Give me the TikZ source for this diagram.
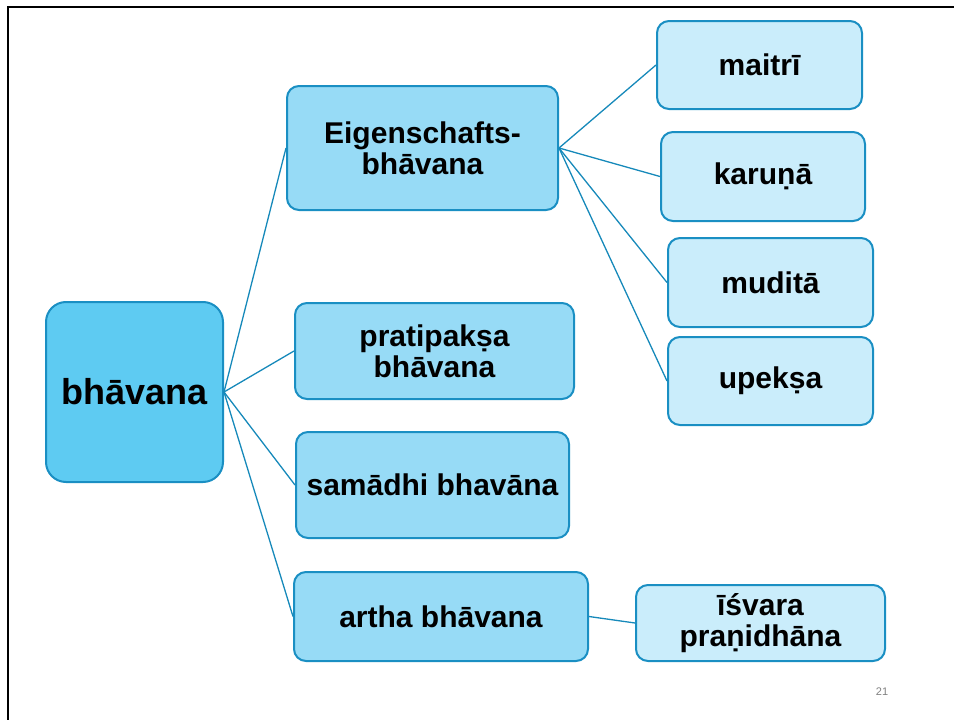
\documentclass[tikz,border=0pt]{standalone}
\usepackage{fontspec}
\setmainfont{Liberation Sans}
\definecolor{mainfill}{RGB}{94,203,242}
\definecolor{lvlonefill}{RGB}{151,219,246}
\definecolor{lvltwofill}{RGB}{202,237,251}
\definecolor{boxborder}{RGB}{26,143,195}
\definecolor{linkcol}{RGB}{22,137,186}
\begin{document}
\begin{tikzpicture}[x=1pt,y=-1pt,
  basebox/.style={draw=boxborder, line width=2pt, inner sep=0pt, align=center,
    font=\fontsize{30}{31}\selectfont\bfseries},
  rootbox/.style={basebox, fill=mainfill, rounded corners=20pt,
    font=\fontsize{36}{38}\selectfont\bfseries},
  lvlone/.style={basebox, fill=lvlonefill, rounded corners=12pt},
  lvltwo/.style={basebox, fill=lvltwofill, rounded corners=12pt},
  link/.style={draw=linkcol, line width=1.3pt}]
\useasboundingbox (0,0) rectangle (954,720);
\draw[line width=2pt, black] (8,720) -- (8,7) -- (954,7);

\node[rootbox, minimum width=177pt, minimum height=180pt] (root) at (134.5,392) {bhāvana};

\node[lvlone, minimum width=271pt, minimum height=124pt] (eig) at (422.5,148) {Eigenschafts-\\bhāvana};
\node[lvlone, minimum width=279pt, minimum height=96pt] (prat) at (434.5,351) {pratipakṣa\\bhāvana};
\node[lvlone, minimum width=273pt, minimum height=106pt] (sam) at (432.5,485) {samādhi bhavāna};
\node[lvlone, minimum width=294pt, minimum height=89pt] (artha) at (441,616.5) {artha bhāvana};

\node[lvltwo, minimum width=205pt, minimum height=88pt] (maitri) at (759.5,65) {maitrī};
\node[lvltwo, minimum width=204pt, minimum height=89pt] (karuna) at (763,176.5) {karuṇā};
\node[lvltwo, minimum width=205pt, minimum height=89pt] (mudita) at (770.5,282.5) {muditā};
\node[lvltwo, minimum width=205pt, minimum height=88pt] (upeksa) at (770.5,381) {upekṣa};
\node[lvltwo, minimum width=249pt, minimum height=76pt] (isvara) at (760.5,623) {īśvara\\praṇidhāna};

\node[text=gray, font=\fontsize{11}{12}\selectfont] (pagenum) at (882,692) {21};

\foreach \c in {eig,prat,sam,artha} \draw[link] (root.east) -- (\c.west);
\foreach \c in {maitri,karuna,mudita,upeksa} \draw[link] (eig.east) -- (\c.west);
\draw[link] (artha.east) -- (isvara.west);
\end{tikzpicture}
\end{document}
